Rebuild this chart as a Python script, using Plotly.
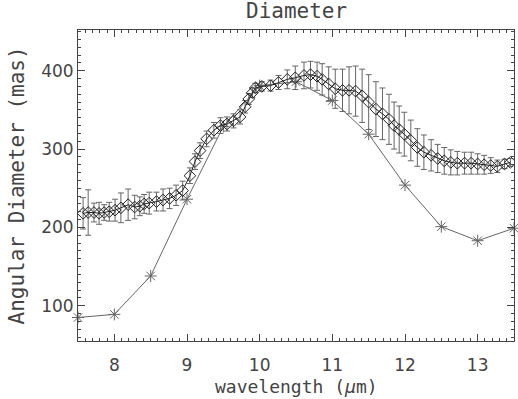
import plotly.graph_objects as go

# diamond series: measured diameter with error bars
wave = [7.57, 7.64, 7.72, 7.79, 7.86, 7.93, 8.01, 8.09, 8.19, 8.28, 8.35, 8.41,
        8.48, 8.58, 8.67, 8.76, 8.85, 8.94, 9.04, 9.11, 9.18, 9.27, 9.37, 9.46,
        9.55, 9.64, 9.73, 9.80, 9.85, 9.90, 9.94, 10.03, 10.15, 10.26, 10.38,
        10.49, 10.61, 10.70, 10.79, 10.86, 10.95, 11.04, 11.14, 11.23, 11.32,
        11.41, 11.50, 11.60, 11.69, 11.78, 11.85, 11.92, 11.99, 12.08, 12.17,
        12.26, 12.36, 12.45, 12.54, 12.63, 12.72, 12.82, 12.91, 13.00, 13.09,
        13.18, 13.27, 13.37, 13.45]
diam = [218, 219, 219, 218, 219, 220, 222, 225, 229, 226, 227, 230,
        231, 233, 235, 237, 241, 247, 266, 284, 298, 313, 324, 330,
        332, 336, 341, 354, 364, 372, 378, 380, 381, 385, 389,
        391, 394, 395, 393, 389, 383, 377, 375, 375, 374,
        368, 360, 351, 345, 338, 330, 325, 319, 311, 302,
        296, 292, 288, 285, 283, 282, 282, 282, 281, 280,
        279, 278, 281, 283]
diam_err = [20, 29, 12, 14, 10, 12, 14, 19, 20, 15, 12, 12,
            14, 12, 14, 13, 13, 12, 10, 10, 10, 10, 10, 10,
            9, 9, 9, 8, 7, 6, 6, 6, 7, 9, 12,
            15, 17, 17, 18, 20, 22, 25, 27, 30, 32,
            34, 35, 35, 33, 32, 30, 30, 28, 26, 24,
            22, 20, 18, 17, 16, 15, 14, 14, 13, 12,
            10, 8, 6, 5]

# asterisk series: model values
model_wave = [7.5, 8.0, 8.5, 9.0, 9.5, 10.0, 10.5, 11.0, 11.5, 12.0, 12.5, 13.0, 13.5]
model_diam = [85, 89, 138, 236, 329, 381, 386, 362, 319, 254, 201, 183, 199]

FONT = "DejaVu Sans"
MONO = "DejaVu Sans Mono"
INK = "#444444"

fig = go.Figure()

fig.add_trace(go.Scatter(
    x=model_wave, y=model_diam, mode="lines+markers",
    line=dict(color="#666666", width=1),
    marker=dict(symbol="asterisk-open", size=10, line=dict(color="#444444", width=1)),
    cliponaxis=False, showlegend=False,
))

fig.add_trace(go.Scatter(
    x=wave, y=diam, mode="lines+markers",
    line=dict(color="#222222", width=1),
    marker=dict(symbol="diamond-open", size=9, color="#222222",
                line=dict(color="#222222", width=1)),
    error_y=dict(type="data", array=diam_err, visible=True,
                 color="#666666", thickness=1, width=3),
    showlegend=False,
))

axis_common = dict(
    showline=True, linecolor=INK, linewidth=1, mirror="allticks",
    ticks="inside", ticklen=7, tickcolor=INK, showgrid=False, zeroline=False,
    automargin=False,
    tickfont=dict(family=FONT, size=17, color=INK),
)

fig.update_xaxes(
    range=[7.5, 13.5], dtick=1, tick0=8, ticklabelstandoff=9,
    minor=dict(dtick=0.1, ticks="inside", ticklen=3, tickcolor=INK),
    **axis_common,
)
fig.update_yaxes(
    range=[55, 452], dtick=100, tick0=0,
    minor=dict(dtick=10, ticks="inside", ticklen=3, tickcolor=INK),
    **axis_common,
)

fig.update_layout(
    width=518, height=399,
    margin=dict(l=78, r=4, t=30, b=58),
    paper_bgcolor="white", plot_bgcolor="white",
    annotations=[
        dict(text="Diameter", xref="paper", yref="paper", x=0.5, y=1,
             yshift=19, xanchor="center", yanchor="middle", showarrow=False,
             font=dict(family=MONO, size=21, color=INK)),
        dict(text="wavelength (<i>μ</i>m)", xref="paper", yref="paper", x=0.5, y=0,
             yshift=-45, xanchor="center", yanchor="middle", showarrow=False,
             font=dict(family=MONO, size=18, color=INK)),
        dict(text="Angular Diameter (mas)", xref="paper", yref="paper", x=0, y=0.5,
             xshift=-62, textangle=-90, xanchor="center", yanchor="middle",
             showarrow=False, font=dict(family=MONO, size=21, color=INK)),
    ],
)

# drop the default 8px body margin so the figure sits at the page corner
fig.write_html("out.html", config={"displayModeBar": False},
               post_script="document.body.style.margin='0';")
